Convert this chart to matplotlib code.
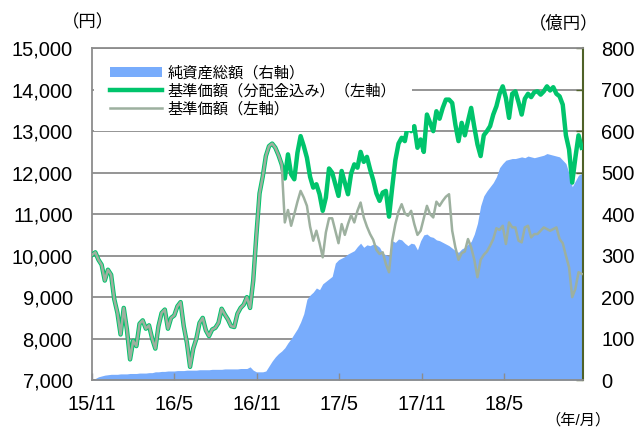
import matplotlib
matplotlib.use('Agg')
import matplotlib.pyplot as plt
import pandas as pd

plt.rcParams['font.family'] = ['Liberation Sans', 'Noto Sans CJK JP']

# weekly samples, starting 2015-11-01
start_date = '2015-11-01'

price_reinvested = [
    10020, 10080, 9900, 9780, 9400, 9660, 9540, 8950, 8620, 8100,
    8740, 8220, 7500, 7950, 7820, 8360, 8440, 8240, 8320, 8000,
    7760, 8300, 8620, 8700, 8240, 8500, 8560, 8780, 8880, 8300,
    7900, 7320, 7760, 8000, 8380, 8500, 8200, 8060, 8220, 8260,
    8380, 8720, 8580, 8460, 8300, 8280, 8600, 8740, 8820, 9000,
    8740, 9400, 10500, 11500, 11900, 12400, 12640, 12700, 12600, 12420,
    12200, 11860, 12440, 11960, 11840, 12480, 12880, 12640, 12360, 11900,
    11640, 11720, 11480, 11080, 11400, 12100, 12000, 11720, 11440, 12040,
    11760, 11480, 11980, 12200, 12120, 12500, 12260, 12380, 12080, 11820,
    11500, 11320, 11520, 11560, 10940, 11640, 12300, 12700, 12840, 12760,
    13160, 13000, 13120, 12600, 12800, 12500, 13400, 13200, 13000, 13480,
    13300, 13560, 13760, 13760, 13680, 13160, 12760, 13200, 12900, 13240,
    13560, 13100, 12680, 12400, 12900, 13000, 13120, 13400, 13600, 13900,
    14080, 13800, 13320, 13900, 13960, 13700, 13400, 13780, 13900, 13820,
    13940, 13960, 13880, 13960, 14080, 13980, 14060, 13900, 13840, 13640,
    12900, 12560, 11760, 12360, 12900, 12600,
]

price = [
    10020, 10080, 9900, 9780, 9400, 9660, 9540, 8950, 8620, 8100,
    8740, 8220, 7500, 7950, 7820, 8360, 8440, 8240, 8320, 8000,
    7760, 8300, 8620, 8700, 8240, 8500, 8560, 8780, 8880, 8300,
    7900, 7320, 7760, 8000, 8380, 8500, 8200, 8060, 8220, 8260,
    8380, 8720, 8580, 8460, 8300, 8280, 8600, 8740, 8820, 9000,
    8740, 9400, 10500, 11500, 11900, 12400, 12640, 12700, 12600, 12420,
    12200, 10800, 11100, 10720, 11000, 11300, 11560, 11400, 11200, 10700,
    10360, 10600, 10300, 9960, 10560, 10900, 10900, 10600, 10300, 10760,
    10500, 10760, 10980, 10800, 11080, 11280, 10920, 10700, 10520, 10380,
    10140, 10040, 10080, 9800, 9600, 10360, 10760, 11060, 11240, 11020,
    10960, 11080, 10760, 10500, 10600, 10900, 11200, 11000, 10920, 11300,
    11200, 11320, 11420, 11480, 10600, 10200, 9900, 10060, 10100, 10400,
    10200, 9900, 9480, 9900, 10020, 10100, 10240, 10400, 10660, 10620,
    10720, 10280, 10800, 10680, 10680, 10360, 10320, 10680, 10720, 10440,
    10520, 10520, 10600, 10680, 10640, 10600, 10640, 10680, 10400, 10300,
    10000, 9720, 9000, 9200, 9600, 9560,
]

nav_oku = [
    0, 4, 8, 10, 12, 13, 14, 14, 14, 15,
    15, 15, 16, 16, 16, 17, 17, 17, 18, 18,
    20, 20, 21, 21, 22, 22, 22, 23, 23, 23,
    24, 24, 24, 24, 25, 25, 25, 25, 26, 26,
    26, 26, 27, 27, 27, 27, 27, 28, 28, 28,
    32, 24, 20, 20, 20, 22, 34, 46, 56, 64,
    70, 78, 90, 100, 112, 124, 140, 160, 195, 205,
    212, 222, 218, 232, 238, 244, 250, 282, 290, 294,
    298, 304, 308, 312, 322, 330, 320, 326, 324, 328,
    326, 320, 306, 302, 298, 336, 332, 340, 338, 330,
    324, 330, 328, 314, 336, 350, 352, 346, 344, 338,
    336, 332, 328, 324, 318, 312, 308, 316, 320, 328,
    334, 352, 378, 420, 444, 456, 466, 476, 490, 512,
    522, 530, 532, 534, 534, 536, 538, 536, 540, 538,
    536, 538, 540, 542, 546, 544, 542, 540, 538, 530,
    522, 498, 466, 480, 494, 498,
]

tick_dates = ['2015-11-01', '2016-05-01', '2016-11-01', '2017-05-01', '2017-11-01', '2018-05-01']
tick_labels = ['15/11', '16/5', '16/11', '17/5', '17/11', '18/5']

dates = pd.date_range(start_date, periods=len(price), freq='7D')

fig = plt.figure(figsize=(6.4, 4.3), dpi=100)
ax = fig.add_axes([0.144, 0.116, 0.767, 0.772])
ax2 = ax.twinx()
# lines on the left axis must sit above the area on the right axis
ax.set_zorder(2)
ax2.set_zorder(1)
ax.patch.set_visible(False)

grid_col = '#8c8c8c'
olive = '#4f6228'

area = ax2.fill_between(dates, 0, nav_oku, color='#78acfc', linewidth=0, zorder=2,
                        label='純資産総額（右軸）')
ax2.set_ylim(0, 800)
ax2.set_yticks(range(0, 801, 100))
ax2.set_axisbelow(True)
ax2.yaxis.grid(True, color=grid_col, linewidth=1.3)
ax2.tick_params(axis='y', direction='in', length=5, width=1, color=olive,
                labelsize=14.5, pad=13)
for s in ax2.spines.values():
    s.set_visible(False)

l1, = ax.plot(dates, price_reinvested, color='#00c46c', linewidth=3.2,
              label='基準価額（分配金込み）（左軸）', zorder=3)
l2, = ax.plot(dates, price, color='#9db09f', linewidth=1.8,
              label='基準価額（左軸）', zorder=4)

ax.set_ylim(7000, 15000)
ax.set_yticks(range(7000, 15001, 1000))
ax.set_yticklabels([f'{v:,}' for v in range(7000, 15001, 1000)])
ax.tick_params(axis='y', length=0, labelsize=14.5, pad=14)

ax.set_xlim(pd.Timestamp('2015-11-01'), pd.Timestamp('2018-10-24'))
ax.set_xticks(pd.to_datetime(tick_dates))
ax.set_xticklabels(tick_labels)
ax.tick_params(axis='x', direction='in', length=5, width=1, color=grid_col,
               labelsize=14.5, pad=11)

for side in ['left', 'bottom', 'top']:
    ax.spines[side].set_color(grid_col)
    ax.spines[side].set_linewidth(1.3)
ax.spines['right'].set_color(olive)
ax.spines['right'].set_linewidth(1.5)

leg = ax.legend(handles=[area, l1, l2], loc='upper left', bbox_to_anchor=(0, 1),
                borderaxespad=0.15, borderpad=1.0, fontsize=11,
                handlelength=3.4, handletextpad=0.4, labelspacing=0.22,
                frameon=True, fancybox=False, framealpha=1)
leg.get_frame().set_facecolor('white')
leg.get_frame().set_edgecolor('none')

fig.text(88 / 640, 1 - 22 / 430, '（円）', ha='center', va='center', fontsize=12.5)
fig.text(564 / 640, 1 - 23 / 430, '（億円）', ha='center', va='center', fontsize=12.5)
fig.text(578 / 640, 1 - 420 / 430, '（年/月）', ha='center', va='center', fontsize=11)

fig.savefig('out.png', dpi=100)
